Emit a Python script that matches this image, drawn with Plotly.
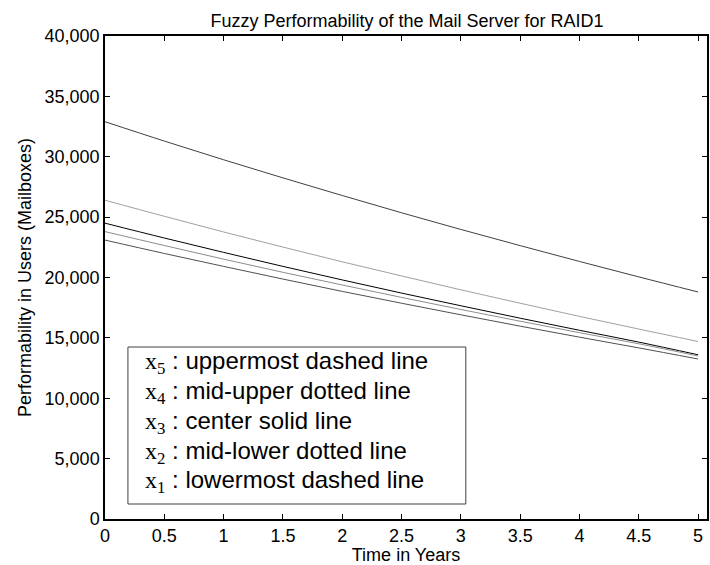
import plotly.graph_objects as go

# ---- data ----
t_years = [0, 0.5, 1, 1.5, 2, 2.5, 3, 3.5, 4, 4.5, 5]
x5_upper = [32900, 31300, 29750, 28250, 26790, 25360, 23980, 22640, 21330, 20050, 18800]
x4_midupper = [26400, 25070, 23770, 22520, 21300, 20130, 18980, 17870, 16780, 15730, 14700]
x3_center = [24500, 23270, 22080, 20920, 19800, 18710, 17660, 16630, 15630, 14650, 13600]
x2_midlower = [23800, 22650, 21520, 20430, 19380, 18350, 17350, 16380, 15430, 14510, 13500]
x1_lower = [23100, 21990, 20920, 19870, 18850, 17870, 16910, 15970, 15060, 14170, 13250]

series = [
    ("x5", x5_upper, "#404040"),
    ("x4", x4_midupper, "#a0a0a0"),
    ("x3", x3_center, "#000000"),
    ("x2", x2_midlower, "#8c8c8c"),
    ("x1", x1_lower, "#505050"),
]

legend_lines = [
    ("5", "uppermost dashed line"),
    ("4", "mid-upper dotted line"),
    ("3", "center solid line"),
    ("2", "mid-lower dotted line"),
    ("1", "lowermost dashed line"),
]

x_ticks = [0, 0.5, 1, 1.5, 2, 2.5, 3, 3.5, 4, 4.5, 5]
x_ticklabels = ["0", "0.5", "1", "1.5", "2", "2.5", "3", "3.5", "4", "4.5", "5"]
y_ticks = [0, 5000, 10000, 15000, 20000, 25000, 30000, 35000, 40000]

fig = go.Figure()
for name, vals, col in series:
    fig.add_trace(go.Scatter(x=t_years, y=vals, mode="lines", name=name,
                             line=dict(color=col, width=1, shape="spline"),
                             showlegend=False))

W, H = 710, 565
L, R, T, B = 105, 1, 36, 46
pw, ph = W - L - R, H - T - B

def px(x):
    return (x - L) / pw

def py(y):
    return (H - B - y) / ph

# legend box
fig.add_shape(type="rect", xref="paper", yref="paper",
              x0=px(128), x1=px(467), y0=py(504), y1=py(347),
              line=dict(color="#404040", width=1), fillcolor="white", layer="above")

centers = [362, 392, 422, 452, 481]
for (sub, txt), cy in zip(legend_lines, centers):
    fig.add_annotation(xref="paper", yref="paper", x=px(143), y=py(cy),
                       xanchor="left", yanchor="middle", showarrow=False,
                       text=("<span style='font-family:Liberation Serif'>x<sub>" + sub +
                             "</sub></span> : " + txt),
                       font=dict(family="Liberation Sans, Arial", size=24, color="black"))

axis_font = dict(family="Liberation Sans, Arial", size=18, color="black")

fig.update_layout(
    width=W, height=H,
    margin=dict(l=L, r=R, t=T, b=B),
    paper_bgcolor="white", plot_bgcolor="white",
    title=dict(text="Fuzzy Performability of the Mail Server for RAID1",
               x=407 / W, xanchor="center",
               y=1 - 21 / H, yanchor="middle",
               font=dict(family="Liberation Sans, Arial", size=18, color="black")),
    xaxis=dict(range=[0, 5.075], tickvals=x_ticks, ticktext=x_ticklabels,
               ticks="inside", ticklen=5, tickcolor="black", tickwidth=1,
               showline=True, linecolor="black", linewidth=1.5, mirror="ticks",
               showgrid=False, zeroline=False, tickfont=axis_font,
               title=dict(text="Time in Years", font=axis_font, standoff=2)),
    yaxis=dict(range=[0, 40000], tickvals=y_ticks, tickformat=",d",
               ticks="inside", ticklen=5, tickcolor="black", tickwidth=1,
               showline=True, linecolor="black", linewidth=1.5, mirror="ticks",
               showgrid=False, zeroline=False, tickfont=axis_font,
               title=dict(text="Performability in Users (Mailboxes)", font=axis_font, standoff=8)),
)

fig.write_html("out.html")
